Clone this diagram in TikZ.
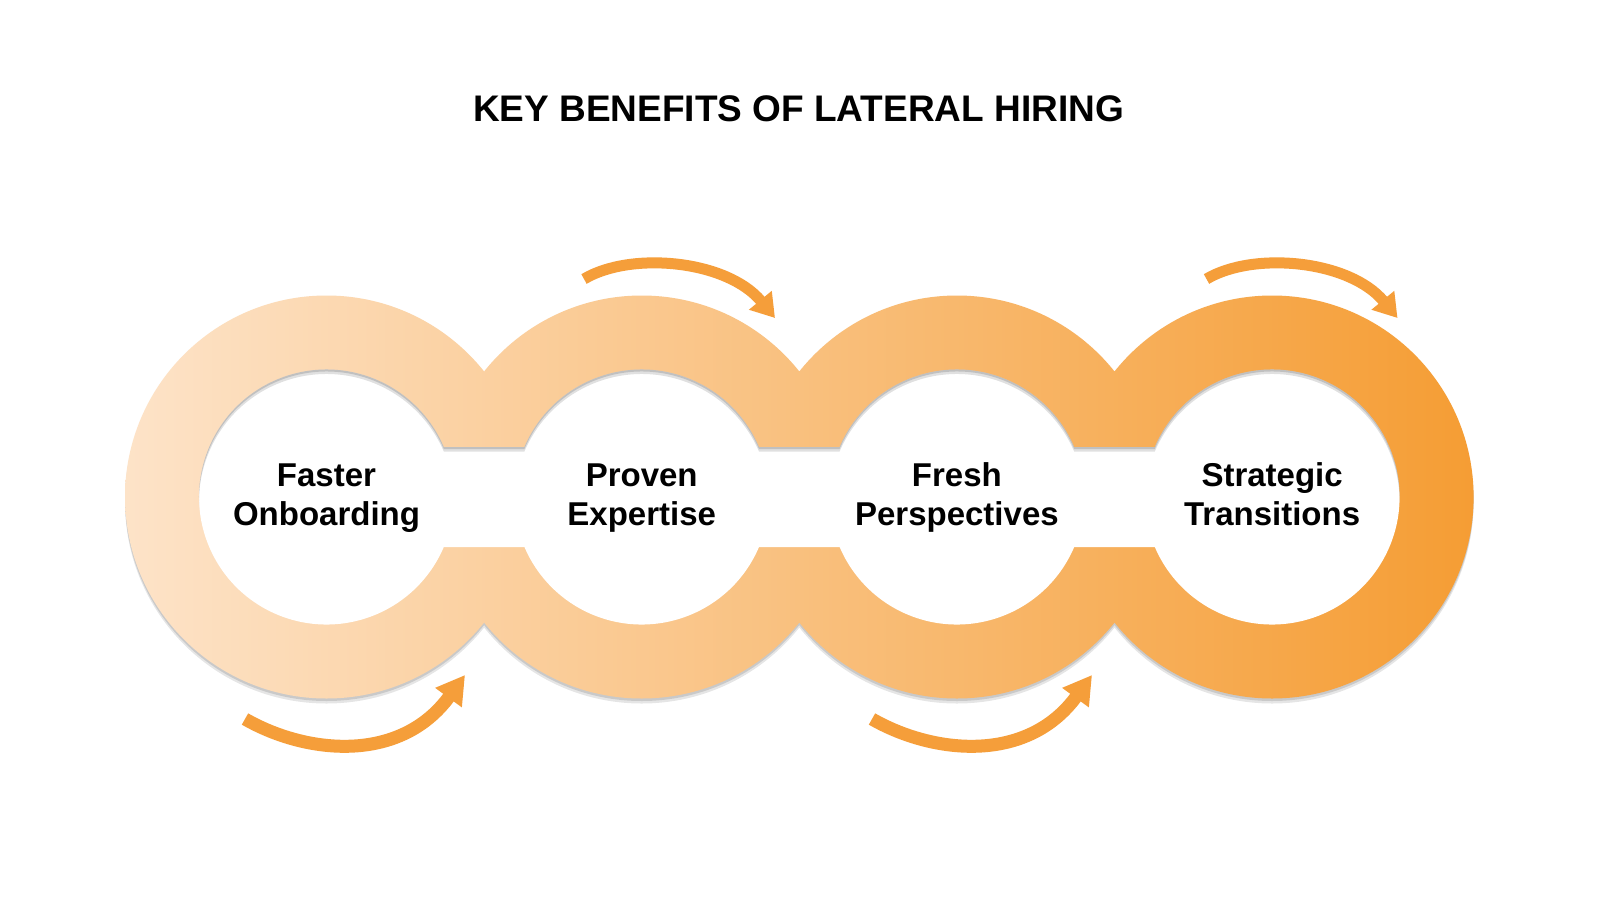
\documentclass[tikz,border=0pt]{standalone}
\usepackage{fontspec}
\setmainfont{Liberation Sans}
\usetikzlibrary{arrows.meta}
\definecolor{peach}{HTML}{FDE3C8}
\definecolor{tangerine}{HTML}{F59D34}
\definecolor{arroworange}{HTML}{F59E3A}

\begin{document}
\begin{tikzpicture}[x=1pt,y=-1pt,
    ringlabel/.style={font=\fontsize{33}{39}\selectfont\bfseries, align=center, anchor=base},
    flowtop/.style={draw=arroworange, line width=11pt, -{Triangle[width=28pt,length=23pt]}},
    flowbot/.style={draw=arroworange, line width=13pt, -{Triangle[width=31pt,length=28pt]}}]
    \def\R{201.5}
    \def\r{127.5}
    \def\cy{497}

    \fill[white] (0,0) rectangle (1600,900);
    \useasboundingbox (0,0) rectangle (1600,900);

    % outer rings, one union of circles
    \def\rings{(326.5,\cy) circle (\R) (641.7,\cy) circle (\R)
               (956.9,\cy) circle (\R) (1272.1,\cy) circle (\R)}
    % inner holes joined by the white strips, moved down by #1
    \newcommand\holepath[1]{(443.8,{447+#1}) -- (524.4,{447+#1}) arc[start angle=203.09,end angle=336.91,radius=\r]
        -- (839.6,{447+#1}) arc[start angle=203.09,end angle=336.91,radius=\r]
        -- (1154.8,{447+#1}) arc[start angle=203.09,end angle=516.91,radius=\r]
        -- (1074.2,{547+#1}) arc[start angle=23.09,end angle=156.91,radius=\r]
        -- (759,{547+#1}) arc[start angle=23.09,end angle=156.91,radius=\r]
        -- (443.8,{547+#1}) arc[start angle=23.09,end angle=336.91,radius=\r] -- cycle}

    \begin{scope}[shift={(0,5)}]
        \fill[black, opacity=0.10] \rings;
    \end{scope}
    \begin{scope}[shift={(0,2.5)}]
        \fill[black, opacity=0.12] \rings;
    \end{scope}
    \shade[left color=peach, right color=tangerine] \rings;

    \fill[white] \holepath{0};
    \begin{scope}
        \clip \holepath{0};
        \fill[black, opacity=0.12, even odd rule] (0,0) rectangle (1600,900) \holepath{4.5};
        \fill[black, opacity=0.14, even odd rule] (0,0) rectangle (1600,900) \holepath{2};
    \end{scope}

    \node[font=\fontsize{37}{44}\selectfont\bfseries, anchor=base] (title) at (798.5,121.7) {KEY BENEFITS OF LATERAL HIRING};

    \node[ringlabel] (faster) at (326.5,525) {Faster\\Onboarding};
    \node[ringlabel] (proven) at (641.7,525) {Proven\\Expertise};
    \node[ringlabel] (fresh) at (956.9,525) {Fresh\\Perspectives};
    \node[ringlabel] (strategic) at (1272.1,525) {Strategic\\Transitions};

    \draw[flowtop] (584,279) .. controls (631,251) and (727,260) .. (775,318);
    \draw[flowtop] (1206.5,279) .. controls (1253.5,251) and (1349.5,260) .. (1397.5,318);
    \draw[flowbot] (245,719) .. controls (306,754) and (400,764) .. (465,675);
    \draw[flowbot] (872,719) .. controls (933,754) and (1027,764) .. (1092,675);

\end{tikzpicture}
\end{document}
